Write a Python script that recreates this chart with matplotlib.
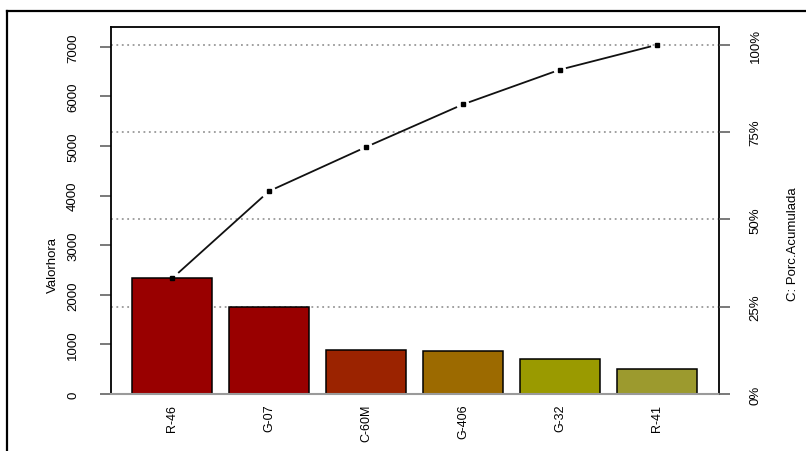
import matplotlib
matplotlib.use("Agg")
import matplotlib.pyplot as plt
from matplotlib.lines import Line2D
import numpy as np

categories = ["R-46", "G-07", "C-60M", "G-406", "G-32", "R-41"]
values = [2330, 1760, 890, 860, 700, 500]
bar_colors = ["#990000", "#990000", "#9B2300", "#9C6A00", "#9A9A00", "#9C9A2E"]
left_ticks = [0, 1000, 2000, 3000, 4000, 5000, 6000, 7000]
pct_ticks = [0, 25, 50, 75, 100]
pct_labels = ["0%", "25%", "50%", "75%", "100%"]
ylabel_left = "Valorhora"
ylabel_right = "C: Porc.Acumulada"

font = ["Liberation Sans Narrow", "Liberation Sans", "DejaVu Sans"]
plt.rcParams["font.family"] = font

W, H = 806, 452
fig = plt.figure(figsize=(W / 100, H / 100), dpi=100)
ax = fig.add_axes([111 / W, 1 - 395 / H, (719 - 111) / W, (395 - 28) / H])

x = np.arange(len(categories))
total = sum(values)
cum = np.cumsum(values)

ymax = 7400
ax.set_xlim(-0.63, len(categories) - 1 + 0.64)
ax.set_ylim(0, ymax)

# grid lines at cumulative percentages
for p in pct_ticks[1:]:
    ax.axhline(total * p / 100, color="#999999", lw=1.3, ls=(0, (1, 2)), zorder=1)

ax.bar(x, values, width=0.83, color=bar_colors, edgecolor="black", linewidth=1.1, zorder=2)

# cumulative line, type 'b' (gaps around points)
t = 0.07
for i in range(len(x) - 1):
    x0, y0, x1, y1 = x[i], cum[i], x[i + 1], cum[i + 1]
    dx, dy = x1 - x0, y1 - y0
    ax.plot([x0 + t * dx, x1 - t * dx], [y0 + t * dy, y1 - t * dy], color="#111111", lw=1.3, zorder=3)
ax.plot(x, cum, ls="none", marker="s", ms=3.4, color="black", zorder=4)

for s in ["top", "left", "right"]:
    ax.spines[s].set_color("black")
    ax.spines[s].set_linewidth(1.3)
ax.spines["bottom"].set_color("#9a9a9a")
ax.spines["bottom"].set_linewidth(1.5)

ax.set_yticks(left_ticks)
ax.set_yticklabels([str(v) for v in left_ticks], rotation=90, va="center", fontsize=9.5)
ax.tick_params(axis="y", length=8, width=1.1, color="#555555", pad=15)
ax.set_xticks(x)
ax.set_xticklabels(categories, rotation=90, fontsize=9, va="top")
ax.tick_params(axis="x", length=0, pad=7)
ax.set_ylabel(ylabel_left, fontsize=9.5)
ax.yaxis.set_label_coords(-0.085, 0.354)

ax2 = ax.twinx()
ax2.set_position(ax.get_position())
ax2.set_ylim(0, ymax / total * 100)
ax2.set_yticks(pct_ticks)
ax2.set_yticklabels(pct_labels, rotation=90, va="center", fontsize=9.5)
ax2.tick_params(axis="y", length=8, width=1.1, color="#555555", pad=14)
for s in ax2.spines.values():
    s.set_visible(False)
ax2.set_ylabel(ylabel_right, fontsize=9.5, rotation=90)
ax2.yaxis.set_label_coords(1.112, 0.41)

# outer frame
fig.add_artist(Line2D([7 / W, 7 / W], [0, 1 - 12 / H], color="black", lw=1.6, transform=fig.transFigure))
fig.add_artist(Line2D([7 / W, 1], [1 - 12 / H, 1 - 12 / H], color="black", lw=1.6, transform=fig.transFigure))

fig.savefig("out.png", dpi=100)
